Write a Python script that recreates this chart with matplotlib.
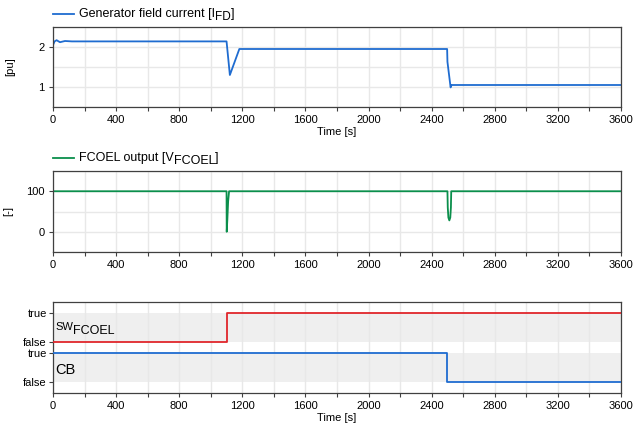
import numpy as np
import matplotlib
matplotlib.use('Agg')
import matplotlib.pyplot as plt
from matplotlib.lines import Line2D
from matplotlib.ticker import MultipleLocator

plt.rcParams['font.family'] = ['Liberation Sans', 'DejaVu Sans']

# generator field current [pu]
t_ifd = [0, 10, 23, 44, 76, 120, 1100, 1121, 1181, 2498, 2500, 2520, 2526, 3600]
ifd = [2.05, 2.14, 2.17, 2.12, 2.15, 2.14, 2.14, 1.30, 1.95, 1.95, 1.63, 0.99, 1.05, 1.05]

# FCOEL output [-]
t_fcoel = [0, 1100, 1101, 1105, 1110, 1116, 2500, 2502, 2506, 2512, 2518, 2522, 2524, 3600]
fcoel = [100, 100, 0, 30, 75, 100, 100, 60, 35, 28, 35, 60, 100, 100]

# switch states
t_sw = [0, 1100, 3600]
sw = [0, 1, 1]
t_cb = [0, 2500, 3600]
cb = [1, 0, 0]

blue = '#1f6cd0'
green = '#0b8f4c'
red = '#e0262b'
grid_c = '#e8e8e8'
spine_c = '#404040'

fig = plt.figure(figsize=(6.33, 4.26), dpi=100)
W, H = 633, 426
renderer = fig.canvas.get_renderer()

def ax_at(x0, y0, x1, y1):
    return fig.add_axes([x0 / W, 1 - y1 / H, (x1 - x0) / W, (y1 - y0) / H])

def rich(x, y, parts):
    # parts: (text, vertical offset px, fontsize)
    for s, dy, fs in parts:
        t = fig.text(x / W, 1 - (y + dy) / H, s, fontsize=fs, va='center', ha='left')
        x += t.get_window_extent(renderer).width

def legend_entry(y, color, parts):
    fig.add_artist(Line2D([53 / W, 74 / W], [1 - y / H, 1 - y / H], color=color, lw=1.3))
    rich(79, y, parts)

ax1 = ax_at(53, 27, 621, 107)
ax2 = ax_at(53, 171, 621, 252)
ax3 = ax_at(53, 302, 621, 393)

for ax in (ax1, ax2, ax3):
    ax.set_xlim(0, 3600)
    ax.xaxis.set_major_locator(MultipleLocator(400))
    ax.xaxis.set_minor_locator(MultipleLocator(200))
    ax.grid(True, which='both', axis='x', color=grid_c, lw=1)
    ax.set_axisbelow(True)
    ax.tick_params(which='both', direction='out', length=3, width=0.8,
                   color=spine_c, labelsize=8, pad=3)
    for s in ax.spines.values():
        s.set_color(spine_c)
        s.set_linewidth(0.9)

# panel 1
ax1.plot(t_ifd, ifd, color=blue, lw=1.3)
ax1.set_ylim(0.5, 2.5)
ax1.set_yticks([1, 2])
ax1.yaxis.set_minor_locator(MultipleLocator(0.5))
ax1.tick_params(axis='y', which='minor', length=0)
ax1.grid(True, which='both', axis='y', color=grid_c, lw=1)
ax1.set_ylabel('[pu]', fontsize=8, labelpad=17)
ax1.set_xlabel('Time [s]', fontsize=8, labelpad=1)
legend_entry(14, blue, [('Generator field current [I', 0, 9), ('FD', 3, 8.5), (']', 0, 9)])

# panel 2
ax2.plot(t_fcoel, fcoel, color=green, lw=1.3)
ax2.set_ylim(-50, 150)
ax2.set_yticks([0, 100])
ax2.yaxis.set_minor_locator(MultipleLocator(50))
ax2.tick_params(axis='y', which='minor', length=0)
ax2.grid(True, which='both', axis='y', color=grid_c, lw=1)
ax2.set_ylabel('[-]', fontsize=8, labelpad=9)
legend_entry(158, green, [('FCOEL output [V', 0, 9), ('FCOEL', 3.5, 9), (']', 0, 9)])

# panel 3
off = 1.38
ax3.axhspan(off, off + 1, color='#efefef', zorder=0.5, lw=0)
ax3.axhspan(0, 1, color='#efefef', zorder=0.5, lw=0)
ax3.step(t_sw, [v + off for v in sw], where='post', color=red, lw=1.3, zorder=3)
ax3.step(t_cb, cb, where='post', color=blue, lw=1.3, zorder=3)
ax3.set_ylim(-0.38, off + 1.38)
ax3.set_yticks([0, 1, off, off + 1])
ax3.set_yticklabels(['false', 'true', 'false', 'true'])
ax3.tick_params(axis='y', pad=1.5)
ax3.set_xlabel('Time [s]', fontsize=8, labelpad=1)
rich(55, 327, [('SW', 0, 8), ('FCOEL', 3.5, 9)])
rich(55, 370, [('CB', 0, 10.5)])

fig.savefig('out.png', dpi=100)
